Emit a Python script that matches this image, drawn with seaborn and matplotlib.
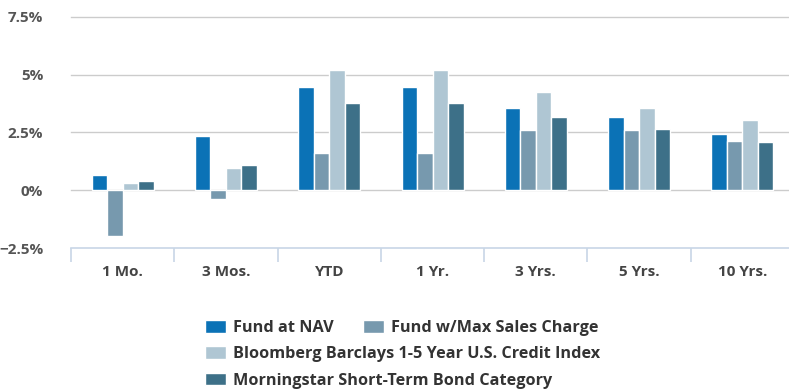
import matplotlib
matplotlib.use("Agg")
import matplotlib.pyplot as plt
import seaborn as sns
import pandas as pd
import numpy as np
from matplotlib.ticker import FixedLocator

periods = ["1 Mo.", "3 Mos.", "YTD", "1 Yr.", "3 Yrs.", "5 Yrs.", "10 Yrs."]
series_names = [
    "Fund at NAV",
    "Fund w/Max Sales Charge",
    "Bloomberg Barclays 1-5 Year U.S. Credit Index",
    "Morningstar Short-Term Bond Category",
]
fund_nav = [0.66, 2.37, 4.49, 4.49, 3.55, 3.19, 2.42]
fund_max_charge = [-1.97, -0.39, 1.60, 1.60, 2.61, 2.61, 2.15]
credit_index = [0.32, 0.95, 5.19, 5.19, 4.26, 3.55, 3.02]
category_avg = [0.39, 1.08, 3.78, 3.78, 3.15, 2.67, 2.08]
y_ticks = [-2.5, 0, 2.5, 5, 7.5]
y_tick_labels = ["\u22122.5%", "0%", "2.5%", "5%", "7.5%"]

colors = ["#0b72b6", "#7799ae", "#afc6d3", "#3d7088"]

df = pd.DataFrame({
    "period": periods * 4,
    "series": np.repeat(series_names, len(periods)),
    "value": fund_nav + fund_max_charge + credit_index + category_avg,
})

plt.rcParams["font.family"] = ["Open Sans", "DejaVu Sans"]
W, H = 789, 392
fig = plt.figure(figsize=(W / 100, H / 100), dpi=100)

# axes box in pixels: left 71, bottom edge at y=248, 1% = 23.1 px
left_px, bottom_px = 71, 248
cat_w = 103.3
ymin, ymax = -2.5, 7.6
px_per = 23.1
ax = fig.add_axes([left_px / W, (H - bottom_px) / H,
                   cat_w * 7 / W, (ymax - ymin) * px_per / H])

sns.barplot(data=df, x="period", y="value", hue="series", order=periods,
            hue_order=series_names, palette=colors, width=0.6,
            edgecolor="white", linewidth=1, saturation=1, ax=ax)

ax.set_xlim(-0.5, 6.5)
ax.set_ylim(ymin, ymax)
ax.set_xlabel("")
ax.set_ylabel("")

for s in ["top", "right", "left"]:
    ax.spines[s].set_visible(False)
ax.spines["bottom"].set_color("#c8d6e6")
ax.spines["bottom"].set_linewidth(1.2)

ax.set_yticks(y_ticks)
ax.set_yticklabels(y_tick_labels)
ax.tick_params(axis="y", length=0, pad=20, labelsize=11, labelcolor="#555555")
for lbl in ax.get_yticklabels():
    lbl.set_fontweight("bold")

# gridlines (the lowest one is the axis line itself)
for yv in y_ticks[1:]:
    ax.axhline(yv, color="#cccccc", linewidth=1, zorder=0, clip_on=False)

ax.tick_params(axis="x", which="major", length=0, pad=12, labelsize=11,
               labelcolor="#444444")
for lbl in ax.get_xticklabels():
    lbl.set_fontweight("bold")
ax.xaxis.set_minor_locator(FixedLocator(np.arange(-0.5, 7.0, 1.0)))
ax.tick_params(axis="x", which="minor", length=10, width=1.2, color="#c8d6e6")

handles, labels = ax.get_legend_handles_labels()
ax.get_legend().remove()

leg_kw = dict(frameon=False, handlelength=1.3, handleheight=0.8,
              handletextpad=0.45, borderpad=0, borderaxespad=0,
              prop={"weight": "bold", "size": 11.7})
leg1 = fig.legend(handles[:2], labels[:2], ncol=2, loc="upper left",
                  bbox_to_anchor=(205 / W, 1 - 320 / H), columnspacing=1.75,
                  labelcolor="#333333", **leg_kw)
leg2 = fig.legend(handles[2:], labels[2:], ncol=1, loc="upper left",
                  bbox_to_anchor=(205 / W, 1 - 346 / H), labelspacing=0.65,
                  labelcolor="#333333", **leg_kw)

fig.savefig("out.png", dpi=100, facecolor="white")
